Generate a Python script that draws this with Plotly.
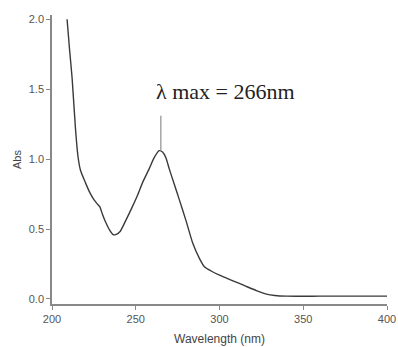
import plotly.graph_objects as go

wavelength = [209, 210.5, 212, 214, 215.5, 217, 220, 222.6, 225, 227, 228.5, 230, 232, 234.5, 236.5, 238, 240.5, 244, 248, 251, 254, 258, 261, 264, 266, 268, 270, 273, 276, 280, 284, 288, 291, 295, 300, 308, 315, 322, 328, 333, 340, 360, 380, 400]
absorbance = [2.0, 1.78, 1.58, 1.22, 1.02, 0.92, 0.83, 0.76, 0.71, 0.68, 0.66, 0.61, 0.55, 0.49, 0.46, 0.46, 0.48, 0.56, 0.66, 0.74, 0.83, 0.93, 1.01, 1.06, 1.05, 1.01, 0.93, 0.82, 0.71, 0.56, 0.40, 0.29, 0.23, 0.20, 0.17, 0.13, 0.095, 0.06, 0.035, 0.025, 0.02, 0.02, 0.02, 0.02]

peak_x = [265, 265]
peak_y = [1.06, 1.31]
label = "λ max = 266nm"
x_ticks = [200, 250, 300, 350, 400]
y_ticks = [0.0, 0.5, 1.0, 1.5, 2.0]

fig = go.Figure()
fig.add_trace(go.Scatter(x=wavelength, y=absorbance, mode="lines",
                         line=dict(color="#3a3a3a", width=1.4, shape="spline", smoothing=0.6),
                         showlegend=False, hoverinfo="skip"))
fig.add_trace(go.Scatter(x=peak_x, y=peak_y, mode="lines",
                         line=dict(color="#777777", width=1),
                         showlegend=False, hoverinfo="skip"))
fig.add_annotation(x=303.5, y=1.48, text=label, showarrow=False,
                   font=dict(family="Liberation Serif", size=22, color="#222222"))

axis_common = dict(showgrid=False, zeroline=False, showline=True, linecolor="#888888", linewidth=1.5,
                   ticks="outside", ticklen=4, tickcolor="#888888", automargin=False,
                   tickfont=dict(family="Liberation Sans", size=11, color="#555555"))
fig.update_xaxes(range=[200, 400], tickvals=x_ticks, ticktext=[str(v) for v in x_ticks],
                 title=dict(text="Wavelength (nm)", font=dict(family="Liberation Sans", size=12, color="#444444"), standoff=11),
                 **axis_common)
fig.update_yaxes(range=[-0.036, 2.03], tickvals=y_ticks, ticktext=[f"{v:.1f}" for v in y_ticks],
                 title=dict(text="Abs", font=dict(family="Liberation Sans", size=11, color="#444444"), standoff=5),
                 **axis_common)
fig.update_layout(width=398, height=347, margin=dict(l=52, r=11, t=15, b=43),
                  paper_bgcolor="white", plot_bgcolor="white")
fig.write_html("out.html", config={"displayModeBar": False},
               post_script="document.body.style.margin='0';document.body.style.overflow='hidden';")
